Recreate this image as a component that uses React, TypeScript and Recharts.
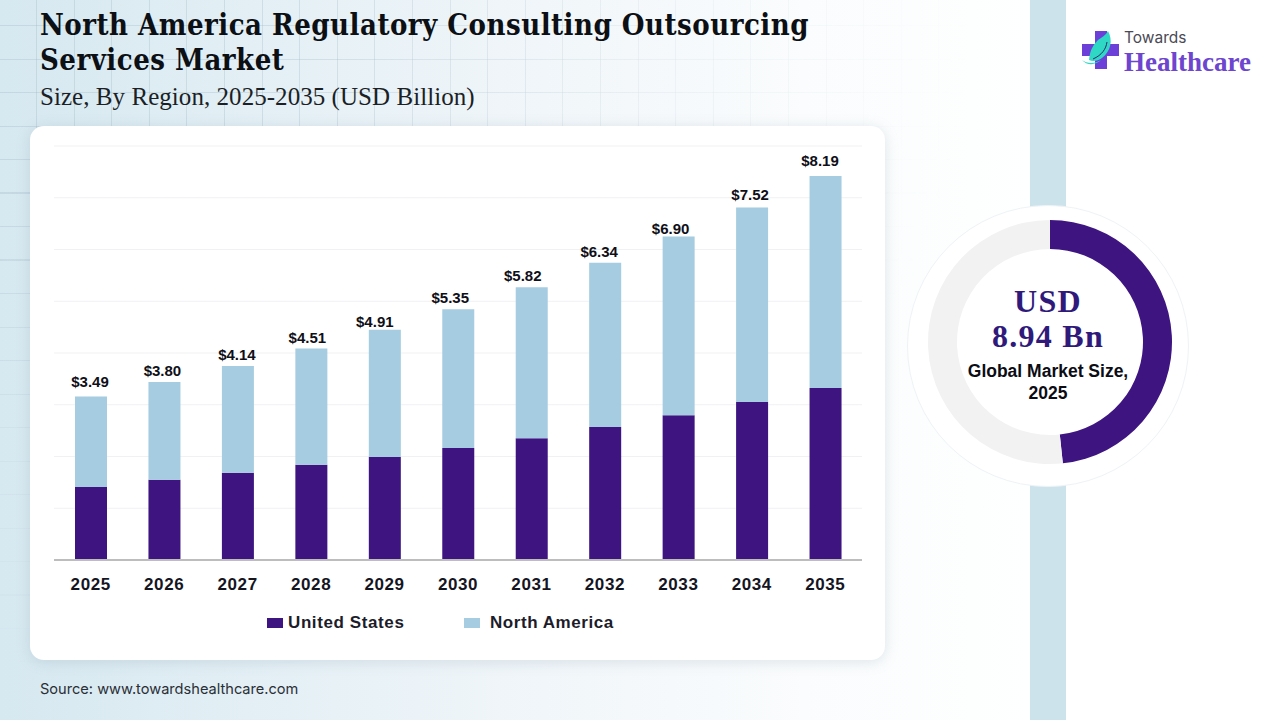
import React from 'react';
import { BarChart, Bar, XAxis, YAxis, CartesianGrid, Legend, LabelList, PieChart, Pie, Cell } from 'recharts';

const years = ['2025', '2026', '2027', '2028', '2029', '2030', '2031', '2032', '2033', '2034', '2035'];
const totals = [3.49, 3.8, 4.14, 4.51, 4.91, 5.35, 5.82, 6.34, 6.9, 7.52, 8.19];
const unitedStates = [1.56, 1.71, 1.86, 2.03, 2.2, 2.39, 2.6, 2.84, 3.09, 3.37, 3.67];
const northAmerica = [1.93, 2.09, 2.28, 2.48, 2.71, 2.96, 3.22, 3.5, 3.81, 4.15, 4.52];
const gridTicks = [0, 1.104, 2.208, 3.312, 4.416, 5.52, 6.624, 7.728, 8.832];

const donutNames = ['Share', 'Rest'];
const donutValues = [4.32, 4.62];

// the value labels sit a little off the bar centre in the original
const labelShiftX = [-1, -2, -1, -4, -10, -8, -9, -6, -8, -2, -5.5];
const labelGapY = [9, 6, 6, 6, 3, 6, 6, 6, 3, 8, 10];

const PURPLE = '#3d1480';
const LIGHT = '#a5cce0';
const SANS = '"Liberation Sans", Arial, sans-serif';
const SERIF = '"Liberation Serif", serif';
const TITLE_SERIF = '"DejaVu Serif Condensed", "DejaVu Serif", serif';

const rows = years.map((year, i) => ({
  year,
  total: totals[i],
  us: unitedStates[i],
  na: northAmerica[i],
}));
const donutRows = donutNames.map((name, i) => ({ name, value: donutValues[i] }));

const TotalLabel = ({ x, y, width, index, value }: any) => (
  <text
    x={x + width / 2 + labelShiftX[index]}
    y={y - labelGapY[index]}
    textAnchor="middle"
    fill="#0f0f18"
    fontSize={15}
    fontWeight={700}
    fontFamily={SANS}
  >
    {`$${Number(value).toFixed(2)}`}
  </text>
);

const LegendRow = () => (
  <div style={{ position: 'relative', height: 20, fontFamily: SANS, fontWeight: 700, fontSize: 17, color: '#1c1c2a' }}>
    <div style={{ position: 'absolute', left: 237, top: 5, width: 16, height: 10, background: PURPLE }} />
    <div style={{ position: 'absolute', left: 258, top: 0, lineHeight: '20px', letterSpacing: 0.6 }}>United States</div>
    <div style={{ position: 'absolute', left: 434, top: 5, width: 16, height: 10, background: LIGHT }} />
    <div style={{ position: 'absolute', left: 460, top: 0, lineHeight: '20px', letterSpacing: 0.55 }}>North America</div>
  </div>
);

const Logo = () => (
  <svg width={46} height={46} viewBox="0 0 46 46" style={{ position: 'absolute', left: 1079, top: 28 }}>
    <path d="M16 3h12v13h12v12H28v13H16V28H3V16h13z" fill="#6b3fd8" />
    <path d="M29 3c5 9 3 20-6 27-4 3-9 4-13 2 1-10 4-15 9-20 4-3 8-5 10-9z" fill="#2fd8c4" />
    <path d="M28 14c-1 7-5 13-14 17" stroke="#2a2a6a" strokeWidth={1} fill="none" />
    <path d="M3 32c5 4 13 4 19 0-5 5-14 6-19 0z" fill="#2fd8c4" />
  </svg>
);

export default function App() {
  const gridMask = 'radial-gradient(ellipse 850px 640px at 120px 40px, #000 25%, rgba(0,0,0,0.35) 65%, transparent 100%)';
  return (
    <div
      style={{
        position: 'fixed',
        left: 0,
        top: 0,
        width: 1280,
        height: 720,
        overflow: 'hidden',
        background: 'linear-gradient(90deg, #d6e8f0 0px, #e3eff5 250px, #eff5f9 500px, #fafcfd 800px, #feffff 1030px)',
      }}
    >
      <div
        style={{
          position: 'absolute',
          inset: 0,
          backgroundImage:
            'repeating-linear-gradient(90deg, transparent 0px, transparent 36px, rgba(150,175,190,0.28) 36px, rgba(150,175,190,0.28) 37px, transparent 37px, transparent 37.6px), repeating-linear-gradient(180deg, transparent 0px, transparent 25px, rgba(150,175,190,0.28) 25px, rgba(150,175,190,0.28) 26px, transparent 26px, transparent 33.5px)',
          WebkitMaskImage: gridMask,
          maskImage: gridMask,
        }}
      />
      <div style={{ position: 'absolute', left: 1030, top: 0, width: 36, height: 720, background: '#cde3ec' }} />
      <div style={{ position: 'absolute', left: 1066, top: 0, width: 214, height: 720, background: '#ffffff' }} />

      <div style={{ position: 'absolute', left: 40, top: 8, fontFamily: TITLE_SERIF, fontWeight: 700, fontSize: 29, lineHeight: '34.5px', letterSpacing: 0.5, color: '#0c0f14', whiteSpace: 'nowrap' }}>
        North America Regulatory Consulting Outsourcing
        <br />
        Services Market
      </div>
      <div style={{ position: 'absolute', left: 40, top: 82, fontFamily: SERIF, fontSize: 25, lineHeight: '30px', letterSpacing: 0.05, color: '#1b1f26', whiteSpace: 'nowrap' }}>
        Size, By Region, 2025-2035 (USD Billion)
      </div>

      <div style={{ position: 'absolute', left: 30, top: 126, width: 855, height: 534, background: '#fff', borderRadius: 14, boxShadow: '0 2px 14px rgba(120,140,160,0.22)' }}>
        <BarChart width={855} height={534} data={rows} margin={{ top: 20, right: 23, left: 24, bottom: 50 }} barSize={32}>
          <CartesianGrid vertical={false} stroke="#f1f1f3" />
          <YAxis hide domain={[0, 8.832]} ticks={gridTicks} />
          <XAxis
            dataKey="year"
            height={30}
            interval={0}
            tickLine={false}
            axisLine={{ stroke: '#bdbdbd', strokeWidth: 2 }}
            tick={{ fill: '#15151f', fontSize: 17, fontWeight: 700, fontFamily: SANS, letterSpacing: 0.6 }}
            tickMargin={12}
          />
          <Legend
            content={<LegendRow />}
            wrapperStyle={{ position: 'absolute', left: 0, top: 487, width: 855, bottom: 'auto' }}
          />
          <Bar dataKey="us" stackId="a" fill={PURPLE} isAnimationActive={false} />
          <Bar dataKey="na" stackId="a" fill={LIGHT} isAnimationActive={false}>
            <LabelList dataKey="total" content={<TotalLabel />} />
          </Bar>
        </BarChart>
      </div>

      <div style={{ position: 'absolute', left: 40, top: 680, fontFamily: 'Inter, sans-serif', fontSize: 14.6, lineHeight: '18px', color: '#2a2f36', whiteSpace: 'nowrap' }}>
        Source: www.towardshealthcare.com
      </div>

      <div style={{ position: 'absolute', left: 907, top: 205, width: 280, height: 280, borderRadius: '50%', background: '#ffffff', border: '1px solid #eef3f6' }} />
      <div style={{ position: 'absolute', left: 900, top: 192 }}>
        <PieChart width={300} height={300} margin={{ top: 0, right: 0, bottom: 0, left: 0 }}>
          <Pie
            data={donutRows}
            dataKey="value"
            nameKey="name"
            cx={150}
            cy={150}
            innerRadius={93}
            outerRadius={122}
            startAngle={90}
            endAngle={-270}
            stroke="none"
            isAnimationActive={false}
          >
            <Cell fill={PURPLE} />
            <Cell fill="#f2f2f3" />
          </Pie>
        </PieChart>
      </div>
      <div style={{ position: 'absolute', left: 948, top: 284, width: 200, textAlign: 'center', fontFamily: SERIF, fontWeight: 700, fontSize: 32, lineHeight: '35px', letterSpacing: 1.3, color: '#2f1a7c' }}>
        USD
        <br />
        8.94 Bn
      </div>
      <div style={{ position: 'absolute', left: 948, top: 360, width: 200, textAlign: 'center', fontFamily: SANS, fontWeight: 700, fontSize: 17.5, lineHeight: '22px', color: '#0c0c14' }}>
        Global Market Size,
        <br />
        2025
      </div>

      <Logo />
      <div style={{ position: 'absolute', left: 1124, top: 28, fontFamily: 'Inter, sans-serif', fontSize: 15.5, lineHeight: '20px', color: '#4a4a55' }}>Towards</div>
      <div style={{ position: 'absolute', left: 1124, top: 45, fontFamily: SERIF, fontWeight: 700, fontSize: 27, lineHeight: '34px', color: '#6d45cf', whiteSpace: 'nowrap' }}>Healthcare</div>
    </div>
  );
}
